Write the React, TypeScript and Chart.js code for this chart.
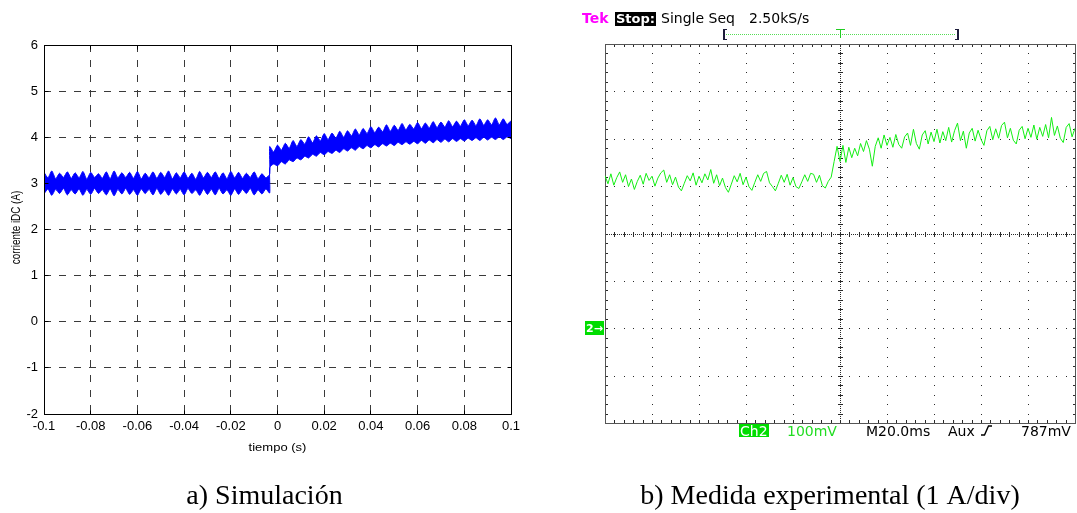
import { useEffect, useRef } from 'react';
import { Chart, registerables } from 'chart.js';

Chart.register(...registerables);

const SANS = '"Liberation Sans", Arial, Helvetica, sans-serif';
const SERIF = '"Liberation Serif", "Times New Roman", serif';
const SCOPE_FONT = '"DejaVu Sans", Verdana, sans-serif';
const BLUE = '#0000ff';
const TRACE_GREEN = '#14ee14';
const LABEL_GREEN = '#00dd00';

// ---------- a) Simulation: DC-link current envelope (A) ----------
// One value every half ripple period (300 Hz ripple -> 1/600 s).
const SIM_DT = 1 / 600;
const SIM_T0 = -0.1;
const SIM_STEP_INDEX = 58; // load step sample

const simPreUpper = [
  3.24, 3.12, 3.27, 3.10, 3.22, 3.13, 3.25, 3.11, 3.23, 3.12,
  3.26, 3.09, 3.24, 3.13, 3.21, 3.11, 3.25, 3.10, 3.27, 3.12,
  3.23, 3.13, 3.24, 3.11, 3.26, 3.10, 3.22, 3.12, 3.25, 3.11,
  3.24, 3.13, 3.27, 3.10, 3.23, 3.12, 3.25, 3.11, 3.22, 3.09,
  3.26, 3.12, 3.24, 3.13, 3.25, 3.11, 3.23, 3.10, 3.26, 3.12,
  3.24, 3.11, 3.22, 3.13, 3.25, 3.10, 3.21, 3.12, 3.20,
];
const simPreLower = [
  2.77, 2.88, 2.74, 2.87, 2.78, 2.89, 2.75, 2.86, 2.77, 2.88,
  2.74, 2.87, 2.76, 2.89, 2.78, 2.86, 2.75, 2.88, 2.73, 2.87,
  2.77, 2.89, 2.76, 2.86, 2.74, 2.88, 2.78, 2.87, 2.75, 2.89,
  2.76, 2.86, 2.74, 2.88, 2.77, 2.87, 2.75, 2.89, 2.78, 2.86,
  2.74, 2.88, 2.76, 2.87, 2.75, 2.89, 2.77, 2.86, 2.74, 2.88,
  2.76, 2.87, 2.78, 2.89, 2.75, 2.86, 2.77, 2.88, 2.79,
];
const simPostUpper = [
  3.80, 3.68, 3.83, 3.72, 3.87, 3.76, 3.93, 3.80, 3.95, 3.85,
  4.01, 3.88, 4.03, 3.92, 4.08, 3.95, 4.09, 3.98, 4.13, 4.00,
  4.14, 4.03, 4.18, 4.05, 4.19, 4.08, 4.23, 4.10, 4.22, 4.12,
  4.27, 4.13, 4.26, 4.15, 4.30, 4.16, 4.28, 4.18, 4.32, 4.19,
  4.31, 4.20, 4.34, 4.21, 4.33, 4.22, 4.36, 4.23, 4.35, 4.24,
  4.38, 4.25, 4.37, 4.25, 4.40, 4.26, 4.38, 4.27, 4.42, 4.27,
  4.40, 4.28, 4.36,
];
const simPostLower = [
  3.34, 3.42, 3.38, 3.47, 3.42, 3.51, 3.47, 3.55, 3.51, 3.59,
  3.55, 3.63, 3.59, 3.67, 3.62, 3.69, 3.65, 3.72, 3.67, 3.75,
  3.70, 3.77, 3.72, 3.80, 3.75, 3.82, 3.77, 3.84, 3.79, 3.86,
  3.81, 3.87, 3.82, 3.89, 3.84, 3.90, 3.85, 3.91, 3.86, 3.93,
  3.87, 3.94, 3.88, 3.95, 3.89, 3.96, 3.90, 3.97, 3.91, 3.97,
  3.92, 3.98, 3.93, 3.99, 3.93, 4.00, 3.94, 4.00, 3.95, 4.01,
  3.95, 4.01, 3.97,
];

const simXTicks = [-0.1, -0.08, -0.06, -0.04, -0.02, 0, 0.02, 0.04, 0.06, 0.08, 0.1];
const simYTicks = [-2, -1, 0, 1, 2, 3, 4, 5, 6];
const SIM_X_TITLE = 'tiempo (s)';
const SIM_Y_TITLE = 'corriente iDC (A)';
const SIM_CAPTION = 'a) Simulación';

// ---------- b) Oscilloscope capture, CH2 (1 A/div) ----------
const SCOPE_DT = 1.25; // ms between displayed samples
const SCOPE_T0 = -100; // ms
const scopeTrace = [
  3.22, 3.05, 3.26, 3.02, 3.18, 3.30, 3.08, 3.24, 2.99, 3.15,
  2.93, 3.10, 3.23, 3.04, 3.27, 3.12, 3.21, 3.00, 3.17, 3.28,
  3.34, 3.08, 3.24, 3.03, 3.19, 2.98, 2.90, 3.06, 3.22, 3.11,
  3.28, 3.02, 3.21, 3.07, 3.26, 3.13, 3.35, 3.06, 3.24, 3.01,
  3.17, 2.97, 2.87, 3.04, 3.22, 3.09, 3.27, 3.03, 3.19, 2.99,
  2.91, 3.08, 3.24, 3.10, 3.27, 3.31, 3.07, 2.99, 2.90, 3.06,
  3.23, 3.08, 3.25, 3.02, 3.18, 2.99, 2.95, 3.09, 3.24, 3.10,
  3.27, 3.25, 3.08, 3.23, 3.01, 2.96, 3.10, 3.19, 3.52, 3.84,
  3.52, 3.86, 3.50, 3.82, 3.60, 3.80, 3.64, 3.90, 3.73, 3.96,
  3.78, 3.42, 3.84, 4.02, 3.80, 4.08, 3.86, 4.03, 3.82, 4.09,
  3.88, 3.80, 4.04, 4.12, 3.86, 4.20, 3.90, 3.78, 4.08, 4.17,
  3.89, 4.14, 3.94, 4.20, 3.91, 4.15, 3.96, 4.24, 3.93, 4.17,
  4.33, 3.96, 4.16, 3.80, 4.12, 4.22, 3.95, 4.18, 3.99, 3.86,
  4.17, 4.26, 3.98, 4.21, 4.01, 4.28, 4.35, 4.02, 4.22, 3.97,
  3.89, 4.18, 4.26, 4.00, 4.22, 4.03, 4.29, 3.99, 4.24, 4.05,
  4.30, 4.02, 4.45, 4.07, 4.27, 4.01, 3.92, 4.24, 4.32, 4.04,
  4.22,
];
const scopeXDivs = [-100, -80, -60, -40, -20, 0, 20, 40, 60, 80, 100];
const scopeYDivs = [-2, -1, 0, 1, 2, 3, 4, 5, 6];
const SCOPE_RECORD = [-50, 0, 50]; // record bracket start, trigger, end (ms)
const SCOPE_CAPTION = 'b) Medida experimental (1 A/div)';

const simPoints = (vals: number[], start: number) =>
  vals.map((v, k) => ({ x: SIM_T0 + (start + k) * SIM_DT, y: v }));

const crisp = (p: number) => Math.round(p - 0.5) + 0.5;

const simDecor = {
  id: 'simDecor',
  afterDatasetsDraw(chart: any) {
    const { ctx, chartArea: a, scales } = chart;
    const L = crisp(a.left), R = crisp(a.right), T = crisp(a.top), B = crisp(a.bottom);
    ctx.save();
    ctx.setLineDash([]);
    ctx.strokeStyle = '#000';
    ctx.lineWidth = 1;
    ctx.beginPath();
    ctx.rect(L, T, R - L, B - T);
    for (const v of simXTicks) {
      const p = crisp(scales.x.getPixelForValue(v));
      ctx.moveTo(p, B); ctx.lineTo(p, B - 4);
      ctx.moveTo(p, T); ctx.lineTo(p, T + 4);
    }
    for (const v of simYTicks) {
      const p = crisp(scales.y.getPixelForValue(v));
      ctx.moveTo(L, p); ctx.lineTo(L + 4, p);
      ctx.moveTo(R, p); ctx.lineTo(R - 4, p);
    }
    ctx.stroke();
    ctx.restore();
  },
  afterDraw(chart: any) {
    const { ctx, chartArea: a } = chart;
    ctx.save();
    ctx.fillStyle = '#000';
    ctx.textAlign = 'center';
    ctx.textBaseline = 'middle';
    ctx.font = `13px ${SANS}`;
    ctx.save();
    ctx.translate(16.5, (a.top + a.bottom) / 2 - 2);
    ctx.rotate(-Math.PI / 2);
    ctx.scale(0.76, 1);
    ctx.fillText(SIM_Y_TITLE, 0, 0);
    ctx.restore();
    ctx.save();
    ctx.translate((a.left + a.right) / 2, a.bottom + 34);
    ctx.scale(1, 0.82);
    ctx.fillText(SIM_X_TITLE, 0, 0);
    ctx.restore();
    ctx.font = `28px ${SERIF}`;
    ctx.textBaseline = 'alphabetic';
    ctx.fillText(SIM_CAPTION, 264.5, 504);
    ctx.restore();
  },
};

function subdivide(major: number[], parts: number) {
  const out: number[] = [];
  for (let i = 0; i < major.length - 1; i++) {
    for (let k = 0; k < parts; k++) out.push(major[i] + ((major[i + 1] - major[i]) * k) / parts);
  }
  out.push(major[major.length - 1]);
  return out.map(Math.round);
}

const scopeDecor = {
  id: 'scopeDecor',
  beforeDatasetsDraw(chart: any) {
    const { ctx, scales } = chart;
    const xs = scales.x, ys = scales.y;
    const xMaj = scopeXDivs.map((v) => Math.round(xs.getPixelForValue(v)));
    const yMaj = scopeYDivs.map((v) => Math.round(ys.getPixelForValue(v)));
    const xMin = subdivide(xMaj, 5);
    const yMin = subdivide(yMaj, 5);
    const L = xMaj[0], R = xMaj[xMaj.length - 1];
    const B = yMaj[0], T = yMaj[yMaj.length - 1];
    const cx = xMaj[5], cy = yMaj[4];
    const dot = (x: number, y: number, w = 1, h = 1) => ctx.fillRect(x, y, w, h);
    ctx.save();
    ctx.fillStyle = '#2a2a2a';
    // division lines, one dot per minor division
    for (const px of xMaj.slice(1, -1)) if (px !== cx) for (const py of yMin) dot(px, py);
    for (const py of yMaj.slice(1, -1)) if (py !== cy) for (const px of xMin) dot(px, py);
    // centre axes: fine dots plus minor tick marks
    for (let y = T; y <= B; y += 2) dot(cx, y);
    for (let x = L; x <= R; x += 2) dot(x, cy);
    for (const py of yMin) dot(cx - 2, py, 5, 1);
    for (const px of xMin) dot(px, cy - 2, 1, 5);
    // edge ticks
    for (const py of yMin) { dot(L + 1, py, 2, 1); dot(R - 2, py, 2, 1); }
    for (const px of xMin) { dot(px, T + 1, 1, 2); dot(px, B - 3, 1, 3); }
    // frame
    ctx.fillStyle = '#555';
    dot(L, T, R - L + 1, 1);
    dot(L, B, R - L + 1, 1);
    dot(L, T, 1, B - T + 1);
    dot(R, T, 1, B - T + 1);
    ctx.restore();
  },
  afterDraw(chart: any) {
    const { ctx, scales, chartArea: a } = chart;
    const xs = scales.x, ys = scales.y;
    ctx.save();
    ctx.textAlign = 'left';
    ctx.textBaseline = 'alphabetic';

    // header
    ctx.font = `bold 14px ${SCOPE_FONT}`;
    ctx.fillStyle = '#ff00ff';
    ctx.fillText('Tek', 22, 23);
    ctx.fillStyle = '#000';
    ctx.fillRect(55, 12, 41, 14);
    ctx.font = `bold 13px ${SCOPE_FONT}`;
    ctx.fillStyle = '#fff';
    ctx.fillText('Stop:', 56, 23);
    ctx.font = `14px ${SCOPE_FONT}`;
    ctx.fillStyle = '#000';
    ctx.fillText('Single Seq', 101, 23);
    ctx.fillText('2.50kS/s', 189, 23);

    // record bracket with trigger marker
    const bx1 = Math.round(xs.getPixelForValue(SCOPE_RECORD[0]));
    const bxT = Math.round(xs.getPixelForValue(SCOPE_RECORD[1]));
    const bx2 = Math.round(xs.getPixelForValue(SCOPE_RECORD[2]));
    ctx.fillStyle = '#55dd55';
    for (let x = bx1 + 3; x < bx2 - 2; x += 2) ctx.fillRect(x, 34, 1, 1);
    ctx.fillStyle = '#1c1c3a';
    ctx.fillRect(bx1, 29, 2, 11);
    ctx.fillRect(bx1, 29, 4, 1);
    ctx.fillRect(bx1, 39, 4, 1);
    ctx.fillRect(bx2 - 1, 29, 2, 11);
    ctx.fillRect(bx2 - 3, 29, 4, 1);
    ctx.fillRect(bx2 - 3, 39, 4, 1);
    ctx.fillStyle = '#22cc22';
    ctx.fillRect(bxT - 4, 29, 9, 1);
    ctx.fillRect(bxT, 29, 1, 9);

    // channel ground marker
    const gy = Math.round(ys.getPixelForValue(0));
    ctx.fillStyle = LABEL_GREEN;
    ctx.fillRect(a.left - 20, gy - 7, 19, 14);
    ctx.fillStyle = '#fff';
    ctx.font = `bold 11px ${SCOPE_FONT}`;
    ctx.fillText('2→', a.left - 19, gy + 4);

    // footer readouts
    ctx.font = `14px ${SCOPE_FONT}`;
    ctx.fillStyle = LABEL_GREEN;
    ctx.fillRect(179, 424, 30, 13);
    ctx.fillStyle = '#fff';
    ctx.fillText('Ch2', 180, 436);
    ctx.fillStyle = '#22dd22';
    ctx.fillText('100mV', 227, 436);
    ctx.fillStyle = '#000';
    ctx.fillText('M20.0ms', 306, 436);
    ctx.fillText('Aux', 388, 436);
    ctx.fillText('787mV', 461, 436);
    // rising-edge trigger slope symbol
    ctx.strokeStyle = '#000';
    ctx.lineWidth = 1.4;
    ctx.beginPath();
    ctx.moveTo(421, 435);
    ctx.lineTo(424.5, 435);
    ctx.lineTo(428.5, 426);
    ctx.lineTo(432, 426);
    ctx.stroke();

    // caption
    ctx.font = `28px ${SERIF}`;
    ctx.textAlign = 'center';
    ctx.fillText(SCOPE_CAPTION, 270, 504);
    ctx.restore();
  },
};

function SimChart() {
  const ref = useRef<HTMLCanvasElement>(null);
  useEffect(() => {
    const upper = [...simPoints(simPreUpper, 0), ...simPoints(simPostUpper, SIM_STEP_INDEX)];
    const lower = [...simPoints(simPreLower, 0), ...simPoints(simPostLower, SIM_STEP_INDEX)];
    const tickFont = { family: SANS, size: 13 };
    const chart = new Chart(ref.current as HTMLCanvasElement, {
      type: 'line',
      data: {
        datasets: [
          { data: upper, borderColor: BLUE, backgroundColor: BLUE, borderWidth: 1, pointRadius: 0, fill: false, tension: 0.2 },
          { data: lower, borderColor: BLUE, backgroundColor: BLUE, borderWidth: 1, pointRadius: 0, fill: '-1', tension: 0.2 },
        ],
      },
      options: {
        responsive: false,
        animation: false,
        devicePixelRatio: 1,
        events: [],
        layout: { padding: { top: 45, right: 49, bottom: 59, left: 0 } },
        plugins: { legend: { display: false }, tooltip: { enabled: false } },
        scales: {
          x: {
            type: 'linear',
            min: -0.1,
            max: 0.1,
            afterBuildTicks: (s: any) => { s.ticks = simXTicks.map((v) => ({ value: v })); },
            afterFit: (s: any) => { s.height = 40; },
            grid: { color: '#3a3a3a', lineWidth: 1, drawTicks: false },
            border: { display: false, dash: [7, 8] },
            ticks: { font: tickFont, color: '#000', padding: 5, maxRotation: 0, minRotation: 0, autoSkip: false, callback: (v: any) => String(v) },
          },
          y: {
            type: 'linear',
            min: -2,
            max: 6,
            afterBuildTicks: (s: any) => { s.ticks = simYTicks.map((v) => ({ value: v })); },
            afterFit: (s: any) => { s.width = 44; },
            grid: { color: '#3a3a3a', lineWidth: 1, drawTicks: false },
            border: { display: false, dash: [7, 8] },
            ticks: { font: tickFont, color: '#000', padding: 6, autoSkip: false, callback: (v: any) => String(v) },
          },
        },
      },
      plugins: [simDecor],
    } as any);
    return () => chart.destroy();
  }, []);
  return <canvas ref={ref} width={560} height={513} style={{ position: 'absolute', left: 0, top: 0, width: 560, height: 513 }} />;
}

function ScopeChart() {
  const ref = useRef<HTMLCanvasElement>(null);
  useEffect(() => {
    const pts = scopeTrace.map((v, i) => ({ x: SCOPE_T0 + i * SCOPE_DT, y: v }));
    const chart = new Chart(ref.current as HTMLCanvasElement, {
      type: 'line',
      data: {
        datasets: [{ data: pts, borderColor: TRACE_GREEN, borderWidth: 1, pointRadius: 0, fill: false, tension: 0 }],
      },
      options: {
        responsive: false,
        animation: false,
        devicePixelRatio: 1,
        events: [],
        layout: { padding: { top: 44, right: 2, bottom: 90, left: 45 } },
        plugins: { legend: { display: false }, tooltip: { enabled: false } },
        scales: {
          x: { type: 'linear', min: -100, max: 100, display: false },
          y: { type: 'linear', min: -2, max: 6, display: false },
        },
      },
      plugins: [scopeDecor],
    } as any);
    return () => chart.destroy();
  }, []);
  return <canvas ref={ref} width={517} height={513} style={{ position: 'absolute', left: 560, top: 0, width: 517, height: 513 }} />;
}

export default function App() {
  return (
    <div style={{ position: 'absolute', left: 0, top: 0, width: 1077, height: 513, background: '#fff', overflow: 'hidden' }}>
      <SimChart />
      <ScopeChart />
    </div>
  );
}
